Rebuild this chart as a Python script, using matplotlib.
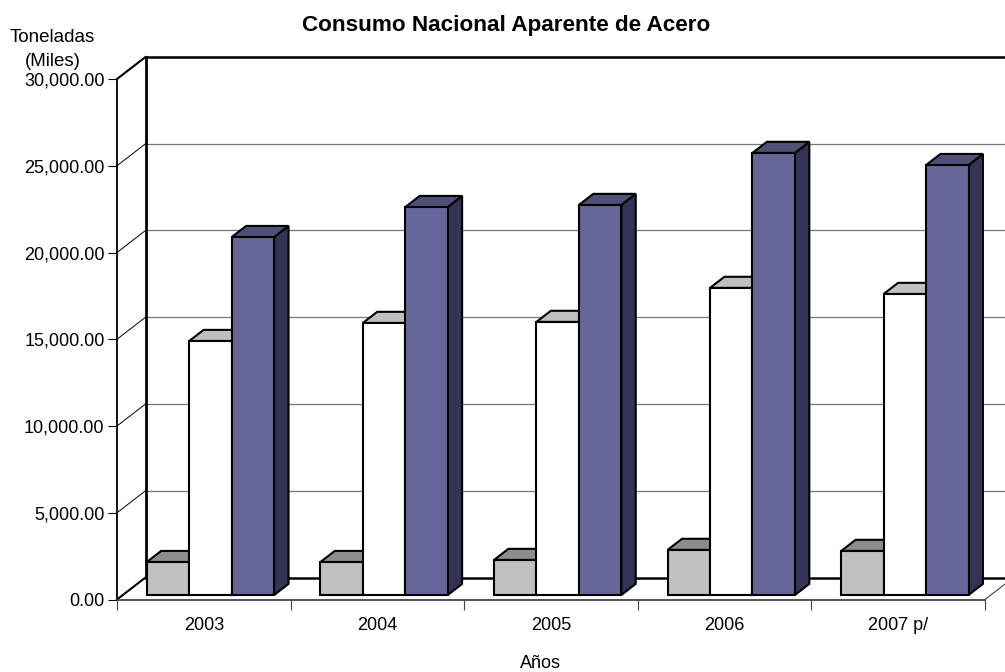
import matplotlib
matplotlib.use("Agg")
import matplotlib.pyplot as plt
from matplotlib.patches import Polygon

# data
years = ["2003", "2004", "2005", "2006", "2007 p/"]
serie_gris = [1900, 1900, 2020, 2600, 2540]
serie_blanca = [14640, 15680, 15740, 17700, 17350]
serie_azul = [20630, 22360, 22480, 25480, 24780]
y_ticks = [0, 5000, 10000, 15000, 20000, 25000, 30000]

# colors: front, top, side
colores = [
    ("#c0c0c0", "#8c8c8c", "#8c8c8c"),
    ("#ffffff", "#c0c0c0", "#c0c0c0"),
    ("#666699", "#4f4f78", "#333355"),
]

W, H = 1005, 672
# axes box in pixels
X0, X1 = 117, 985
Y0, Y1 = 599.5, 79

# depth of the floor in data units
DX = 28.5 / ((X1 - X0) / 5)
DY = 22 / ((Y0 - Y1) / 30000)
BAR_W = 0.2445
BAR_START = 0.138
D_FRONT = 0.205
D_BACK = 0.71


def proj(x, y, d):
    # oblique projection, d=0 front plane and d=1 back wall
    return (x + d * DX, y + d * DY)


def draw_bar(ax, x, val, cols, z):
    front, top, side = cols
    a = proj(x, 0, D_FRONT)
    b = proj(x + BAR_W, 0, D_FRONT)
    c = proj(x + BAR_W, val, D_FRONT)
    e = proj(x, val, D_FRONT)
    f = proj(x, val, D_BACK)
    g = proj(x + BAR_W, val, D_BACK)
    h = proj(x + BAR_W, 0, D_BACK)
    for pts, col in [([b, h, g, c], side), ([e, c, g, f], top), ([a, b, c, e], front)]:
        ax.add_patch(Polygon(pts, closed=True, facecolor=col, edgecolor="black",
                             linewidth=1.5, joinstyle="miter", zorder=z, clip_on=False))


plt.rcParams["font.family"] = ["Liberation Sans", "DejaVu Sans"]
fig = plt.figure(figsize=(W / 100, H / 100), dpi=100, facecolor="white")
ax = fig.add_axes([X0 / W, 1 - Y0 / H, (X1 - X0) / W, (Y0 - Y1) / H])
ax.set_xlim(0, 5)
ax.set_ylim(0, 30000)
ax.patch.set_alpha(0)

# back wall and gridlines
for v in y_ticks:
    p0 = proj(0, v, 0)
    p1 = proj(0, v, 1)
    p2 = proj(5, v, 1)
    thick = v in (0, 30000)
    ax.plot([p0[0], p1[0]], [p0[1], p1[1]], color="black", lw=1.5 if thick else 0.7,
            clip_on=False, zorder=2)
    ax.plot([p1[0], p2[0]], [p1[1], p2[1]], color="black" if thick else "#777777",
            lw=1.8 if thick else 0.9, clip_on=False, zorder=1)
wall = [proj(0, 0, 1), proj(0, 30000, 1)]
ax.plot([wall[0][0], wall[1][0]], [wall[0][1], wall[1][1]], color="black", lw=2,
        clip_on=False, zorder=2)

# right edge of the floor
p0 = proj(5, 0, 0)
p1 = proj(5, 0, 1)
ax.plot([p0[0], p1[0]], [p0[1], p1[1]], color="#444444", lw=0.8, clip_on=False, zorder=2)

# bars
for i in range(len(years)):
    base = i + BAR_START
    draw_bar(ax, base, serie_gris[i], colores[0], 3)
    draw_bar(ax, base + BAR_W, serie_blanca[i], colores[1], 4)
    draw_bar(ax, base + 2 * BAR_W, serie_azul[i], colores[2], 5)

# axes
for s in ("top", "right"):
    ax.spines[s].set_visible(False)
ax.spines["left"].set_linewidth(1.3)
ax.spines["bottom"].set_color("#444444")
ax.spines["bottom"].set_linewidth(1.3)
ax.set_yticks(y_ticks)
ax.set_yticklabels([f"{v:,.2f}" for v in y_ticks], fontsize=13)
ax.set_xticks(range(6))
ax.set_xticklabels([])
ax.set_xticks([i + 0.5 for i in range(5)], labels=years, minor=True, fontsize=13)
ax.tick_params(axis="y", length=6.5, width=0.8, pad=2.5)
ax.tick_params(axis="x", which="major", length=7, width=0.8, color="#444444")
ax.tick_params(axis="x", which="minor", length=0, pad=12.5)

fig.text(506 / W, 1 - 26 / H, "Consumo Nacional Aparente de Acero", fontsize=16.2,
         fontweight="bold", ha="center", va="center")
fig.text(52.5 / W, 1 - 37 / H, "Toneladas", fontsize=13.5, ha="center", va="center")
fig.text(53 / W, 1 - 61 / H, "(Miles)", fontsize=13.5, ha="center", va="center")
fig.text(540 / W, 1 - 664 / H, "Años", fontsize=13, ha="center", va="center")

fig.savefig("out.png", dpi=100)
plt.close(fig)
